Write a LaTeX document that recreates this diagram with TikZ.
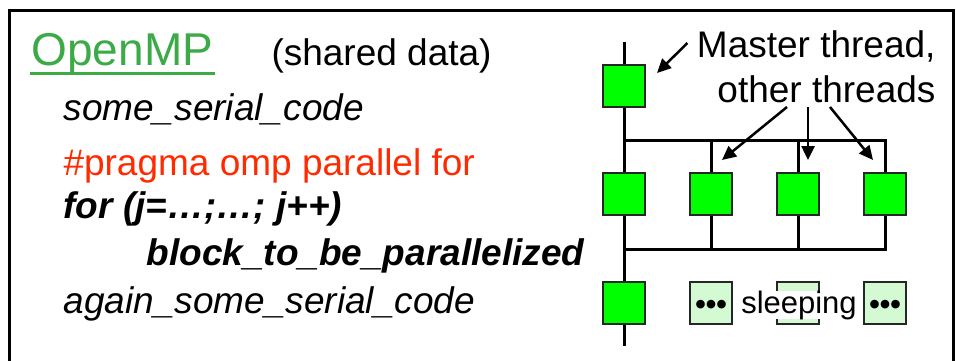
\documentclass[tikz,border=0pt]{standalone}
\usepackage{fontspec}
\setmainfont{Liberation Sans}
\usetikzlibrary{shapes,arrows.meta}

\definecolor{ompgreen}{HTML}{3DAA48}
\definecolor{pragmared}{HTML}{FF2A00}
\definecolor{threadgreen}{HTML}{00FF00}
\definecolor{sleepgreen}{HTML}{D4FAD4}

\newcommand\codefont{\fontsize{37}{44}\selectfont}
\newcommand\titlefont{\fontsize{46}{54}\selectfont}
\newcommand\sleepfont{\fontsize{31}{36}\selectfont}
\newcommand\dotsfont{\fontsize{30}{34}\selectfont\bfseries}

\begin{document}
\begin{tikzpicture} [
    x=1pt, y=-1pt,
    line width=3pt,
    >={Triangle[length=14pt,width=13pt]},
    node distance=87pt,
  ]

  \tikzstyle{thread} = [
    rectangle,
    minimum size=42pt,
    inner sep=0pt,
    line width=2.5pt,
    draw=black!85,
    fill=threadgreen,
  ]
  \tikzstyle{sleeper} = [
    thread,
    fill=sleepgreen,
    font=\dotsfont,
    text height=22pt,
    text depth=0pt,
  ]
  \tikzstyle{code} = [
    anchor=base west,
    inner sep=0pt,
    font=\codefont,
  ]
  \tikzstyle{callout} = [
    anchor=base east,
    inner sep=0pt,
    font=\codefont,
  ]
  \tikzstyle{pointer} = [->, line width=2.5pt]

  \useasboundingbox (0,0) rectangle (956,360);

  % frame, open at the bottom
  \draw (9,362) -- (9,10) -- (953,10) -- (953,362);

  % code column
  \node[code,font=\titlefont,text=ompgreen] (omp)    at (30,65)  {OpenMP};
  \node[code]                               (shared) at (270,65) {(shared data)};
  \node[code]                (serial)  at (62,120)  {\itshape some\_serial\_code};
  \node[code,text=pragmared] (pragma)  at (62,175)  {\#pragma omp parallel for};
  \node[code]                (loop)    at (62,218)  {\bfseries\itshape for (j=…;…; j++)};
  \node[code]                (block)   at (145,265) {\bfseries\itshape block\_to\_be\_parallelized};
  \node[code]                (again)   at (62,313)  {\itshape again\_some\_serial\_code};
  \draw[ompgreen] ([yshift=-8pt]omp.base west) -- ([yshift=-8pt]omp.base east);

  % threads
  \node[thread]                                  (m1) at (624,86) {};
  \node[thread,below of=m1,node distance=108pt] (m2) {};
  \node[thread,right of=m2]                      (w1) {};
  \node[thread,right of=w1]                      (w2) {};
  \node[thread,right of=w2]                      (w3) {};
  \node[thread,below of=m2,node distance=109pt] (m3) {};
  \node[sleeper,right of=m3]                     (s1) {•••};
  \node[sleeper,right of=s1]                     (s2) {};
  \node[sleeper,right of=s2]                     (s3) {•••};

  \node[fill=white,inner sep=0pt,font=\sleepfont,anchor=base] (sleep) at (799,313) {sleeping};

  \coordinate (top)  at (624,42);
  \coordinate (end)  at (624,346);
  \coordinate (fork) at (624,140);
  \coordinate (join) at (624,249);

  \draw (top) -- (m1) -- (m2) -- (m3) -- (end);
  \draw (fork) -| (w3);
  \foreach \w in {w1,w2}
    \draw (fork -| \w) -- (\w);
  \draw (join) -| (w3);
  \foreach \w in {w1,w2}
    \draw (\w) -- (join -| \w);

  % labels
  \node[callout] (master) at (937,57)  {Master thread,};
  \node[callout] (others) at (937,102) {other threads};

  \coordinate (mhead) at (657,73);
  \coordinate (o1) at (787,107);
  \coordinate (o2) at (808,107);
  \coordinate (o3) at (830,107);
  \coordinate (h1) at (722,160);
  \coordinate (h2) at (808,160);
  \coordinate (h3) at (873,160);

  \draw[pointer] ([xshift=-8pt,yshift=3pt]master.west) -- (mhead);
  \draw[pointer] (o1) -- (h1);
  \draw[pointer] (o2) -- (h2);
  \draw[pointer] (o3) -- (h3);

\end{tikzpicture}
\end{document}
